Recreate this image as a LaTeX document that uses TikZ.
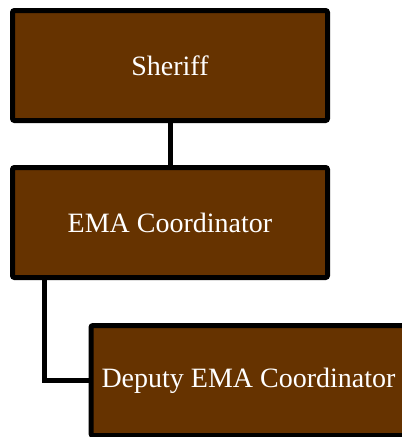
\documentclass[tikz,border=0pt]{standalone}
\usepackage{fontspec}
\setmainfont{Liberation Serif}
\definecolor{boxbrown}{HTML}{663300}

\begin{document}
\begin{tikzpicture}[x=1pt,y=1pt,
    post/.style={draw=black, line width=5pt, fill=boxbrown, rounded corners=2pt,
        minimum width=315pt, minimum height=110pt, text=white,
        font=\fontsize{28}{34}\selectfont},
    link/.style={draw=black, line width=5pt}]

    \useasboundingbox (0,0) rectangle (402,-437);
    \begin{scope}
        \clip (0,0) rectangle (402,-437);
        % the three posts
        \node[post] (sheriff) at (170,-65.5) {Sheriff};
        \node[post] (ema) at (170,-222.5) {EMA Coordinator};
        \node[post] (deputy) at (248.5,-380.5) {Deputy EMA Coordinator};
    \end{scope}
    % links
    \draw[link] (sheriff) -- (ema);
    \draw[link] (ema.south -| 44,0) |- (deputy.west);
\end{tikzpicture}
\end{document}
